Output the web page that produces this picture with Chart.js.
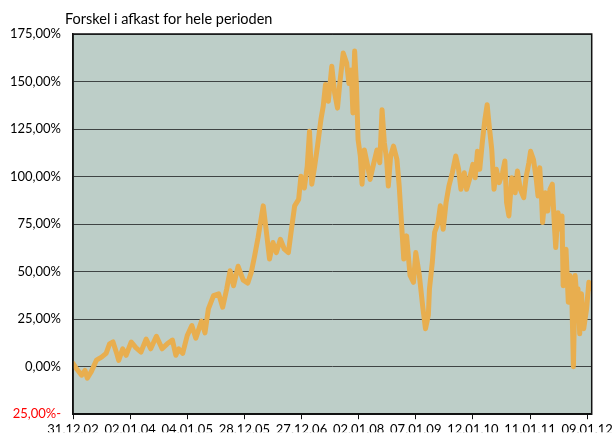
<!DOCTYPE html>
<html>
<head>
<meta charset="utf-8">
<script src="https://cdn.jsdelivr.net/npm/chart.js@4"></script>
<style>
  body { margin: 0; background: #fff; }
  canvas { display: block; }
</style>
</head>
<body>
<canvas id="afkastChart" width="616" height="434"></canvas>
<script>
// DATA (x = år efter 31.12.02, y = forskel i %)
const tickLabels = ["31.12.02", "02.01.04", "04.01.05", "28.12.05", "27.12.06", "02.01.08", "07.01.09", "12.01.10", "11.01.11", "09.01.12"];
const tickPos = [0, 1, 2, 3, 4, 5, 6, 7, 8, 9];

const tid = [
  0.00, 0.06, 0.15, 0.21, 0.25, 0.32, 0.41, 0.50, 0.58, 0.64, 0.70, 0.76, 0.80, 0.87, 0.93,
  1.02, 1.10, 1.19, 1.28, 1.36, 1.46, 1.56, 1.65, 1.74, 1.80, 1.85, 1.92,
  2.00, 2.08, 2.15, 2.25, 2.31, 2.37, 2.46, 2.55, 2.62, 2.69, 2.75, 2.81, 2.89, 2.98,
  3.06, 3.12, 3.18, 3.24, 3.33, 3.38, 3.44, 3.50, 3.56, 3.63, 3.70, 3.77, 3.82, 3.88, 3.95, 3.99,
  4.05, 4.10, 4.14, 4.18, 4.23, 4.28, 4.34, 4.38, 4.42, 4.47, 4.53, 4.58, 4.63, 4.67, 4.73, 4.79, 4.83, 4.87, 4.90, 4.93, 4.96, 4.99,
  5.03, 5.06, 5.10, 5.16, 5.20, 5.26, 5.32, 5.37, 5.41, 5.45, 5.49, 5.52, 5.56, 5.61, 5.67, 5.71, 5.75, 5.79, 5.84, 5.90, 5.96,
  6.00, 6.06, 6.12, 6.17, 6.22, 6.24, 6.29, 6.33, 6.39, 6.43, 6.48, 6.53, 6.58, 6.64, 6.70, 6.75, 6.79, 6.85, 6.89, 6.94,
  7.00, 7.04, 7.08, 7.12, 7.17, 7.21, 7.25, 7.28, 7.33, 7.37, 7.41, 7.46, 7.52, 7.56, 7.59, 7.63, 7.68, 7.74, 7.78, 7.83, 7.89, 7.93, 7.98,
  8.01, 8.06, 8.11, 8.14, 8.17, 8.20, 8.22, 8.27, 8.31, 8.35, 8.39, 8.43, 8.45, 8.49, 8.53, 8.56, 8.58, 8.63, 8.67, 8.70, 8.73, 8.76, 8.79, 8.82, 8.84, 8.87, 8.90, 8.94, 8.99,
  9.03, 9.08
];

const forskel = [
  1.7, -1, -4.5, -2, -6, -2.6, 3.4, 5, 7, 12, 13, 7.5, 3.3, 9.4, 6,
  13, 10, 7.7, 14.5, 9.4, 16, 9.4, 12, 14, 6, 9.4, 7,
  16.4, 21.6, 15, 24, 17.8, 30.4, 37.4, 38.3, 31.3, 40.9, 50.5, 42.6, 52.8, 45.5,
  44, 49.6, 58.3, 68, 84.6, 72.3, 56.6, 65.3, 60, 67, 61.8, 60, 71.4, 84.6, 88, 100.2,
  94, 105.4, 123.8, 96, 105.4, 116, 130, 137, 148.4, 139.6, 158, 144, 136, 149, 165, 159.7, 149, 156, 133.5, 166, 149, 119.5,
  110.8, 96, 114, 105.4, 98.5, 106.4, 114, 107.3, 135.2, 117.8, 109, 95, 110.8, 116, 109, 95, 75.8, 56.6, 68.8, 48, 44.4,
  60, 48.7, 32, 20, 27, 41, 55, 70.7, 75.8, 84.6, 72.3, 86.3, 95, 102, 110.8, 103.8, 93.3, 102, 93.3, 98.5,
  106.4, 99.4, 113.3, 103.8, 119.5, 130, 137.8, 128.3, 114.3, 93.3, 103.8, 96.8, 102, 108.2, 86.3, 79.3, 99.4, 91.5, 102.9, 93.3, 88.9, 99.4, 107.3,
  113.3, 109, 98.5, 89.8, 104.7, 89.8, 75.8, 91.5, 81.9, 93.3, 96, 72.3, 62.7, 81, 72.3, 79.3, 42.6, 61.8, 33.9, 47.9, 39.1, 0, 47.9, 35.6, 41, 17.3, 38.3, 20, 30.4,
  44.4, 41
];

const titel = "Forskel i afkast for hele perioden";

// BAGGRUND, RAMME OG TITEL
const plotFrame = {
  id: "plotFrame",
  beforeDraw(chart) {
    const { ctx, chartArea: a } = chart;
    ctx.save();
    ctx.fillStyle = "#bdcec8";
    ctx.fillRect(a.left, a.top, a.right - a.left, a.bottom - a.top);
    ctx.restore();
  },
  afterDraw(chart) {
    const { ctx, chartArea: a } = chart;
    ctx.save();
    ctx.strokeStyle = "#111";
    ctx.lineWidth = 1.5;
    ctx.strokeRect(a.left, a.top, a.right - a.left, a.bottom - a.top);
    ctx.fillStyle = "#000";
    ctx.font = "14.5px Lato";
    ctx.textBaseline = "middle";
    ctx.fillText(titel, 65, 19);
    ctx.restore();
  }
};

const fmtPct = v => Math.abs(v).toFixed(2).replace(".", ",") + "%" + (v < 0 ? "-" : "");

const ctx = document.getElementById("afkastChart").getContext("2d");
new Chart(ctx, {
  type: "line",
  data: {
    datasets: [{
      data: tid.map((x, i) => ({ x: x, y: forskel[i] })),
      borderColor: "#e8ae4f",
      borderWidth: 5,
      pointRadius: 0,
      tension: 0,
      borderJoinStyle: "round",
      borderCapStyle: "round"
    }]
  },
  options: {
    responsive: false,
    animation: false,
    layout: { padding: { top: 34, right: 19, left: 0, bottom: 0 } },
    plugins: { legend: { display: false }, tooltip: { enabled: false } },
    scales: {
      x: {
        type: "linear",
        min: 0,
        max: 9.08,
        afterBuildTicks: s => { s.ticks = tickPos.map(v => ({ value: v })); },
        afterFit: s => { s.height = 18; },
        grid: { drawOnChartArea: false, color: "#111", tickLength: 5 },
        border: { color: "#111", width: 1.5 },
        ticks: {
          autoSkip: false,
          maxRotation: 0,
          padding: 3,
          color: "#000",
          font: { family: "Lato", size: 13 },
          callback: (v) => tickLabels[tickPos.indexOf(v)]
        }
      },
      y: {
        min: -25,
        max: 175,
        afterFit: s => { s.width = 73; },
        grid: { color: "#3f4444", lineWidth: 1, tickLength: 0 },
        border: { color: "#111", width: 1.5 },
        ticks: {
          stepSize: 25,
          padding: 12,
          font: { family: "Lato", size: 13 },
          color: c => (c.tick.value < 0 ? "#ff0000" : "#000"),
          callback: v => fmtPct(v)
        }
      }
    }
  },
  plugins: [plotFrame]
});
</script>
</body>
</html>
